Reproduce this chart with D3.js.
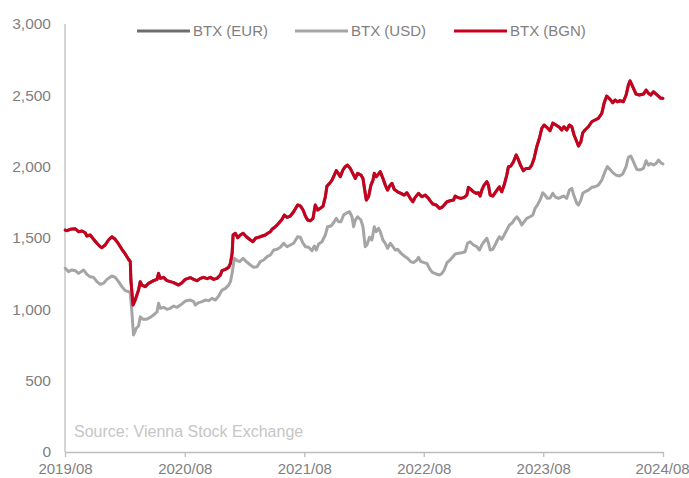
<!DOCTYPE html>
<html>
<head>
<meta charset="utf-8">
<script src="https://cdn.jsdelivr.net/npm/d3@7"></script>
<style>
	body { margin: 0; background: #fff; }
	svg { display: block; font-family: "Liberation Sans", Arial, sans-serif; }
	.axis-label { fill: #7f7f7f; font-size: 15.5px; }
	.x.axis .axis-label { font-size: 15px; }
	.legend--text { fill: #7f7f7f; font-size: 15px; }
	.source { fill: #c6c6c6; font-size: 16px; }
</style>
</head>
<body>
<div id="graphic"></div>
<script>
// time is stored as decimal years (2019.583 = start of Aug 2019)
const bgnDates = [2019.583, 2019.597, 2019.625, 2019.667, 2019.694, 2019.723, 2019.750, 2019.764, 2019.792, 2019.820,
	2019.848, 2019.876, 2019.890, 2019.917, 2019.945, 2019.973, 2020.001, 2020.029, 2020.057, 2020.085,
	2020.112, 2020.127, 2020.132, 2020.149, 2020.168, 2020.196, 2020.210, 2020.224, 2020.252, 2020.279,
	2020.321, 2020.350, 2020.363, 2020.377, 2020.405, 2020.433, 2020.461, 2020.489, 2020.530, 2020.559,
	2020.586, 2020.628, 2020.656, 2020.684, 2020.712, 2020.739, 2020.768, 2020.795, 2020.823, 2020.851,
	2020.879, 2020.893, 2020.921, 2020.948, 2020.963, 2020.977, 2020.985, 2021.004, 2021.024, 2021.046,
	2021.069, 2021.096, 2021.130, 2021.152, 2021.172, 2021.199, 2021.228, 2021.255, 2021.275, 2021.297,
	2021.311, 2021.339, 2021.367, 2021.395, 2021.414, 2021.437, 2021.464, 2021.492, 2021.525, 2021.548,
	2021.571, 2021.590, 2021.609, 2021.632, 2021.654, 2021.673, 2021.693, 2021.715, 2021.738, 2021.757,
	2021.771, 2021.793, 2021.813, 2021.832, 2021.849, 2021.868, 2021.882, 2021.905, 2021.924, 2021.943,
	2021.966, 2021.989, 2022.008, 2022.027, 2022.055, 2022.072, 2022.091, 2022.100, 2022.119, 2022.139,
	2022.156, 2022.167, 2022.183, 2022.203, 2022.217, 2022.239, 2022.259, 2022.278, 2022.295, 2022.315,
	2022.334, 2022.362, 2022.390, 2022.417, 2022.440, 2022.468, 2022.490, 2022.509, 2022.537, 2022.565,
	2022.593, 2022.621, 2022.635, 2022.657, 2022.685, 2022.713, 2022.733, 2022.752, 2022.775, 2022.802,
	2022.830, 2022.844, 2022.863, 2022.892, 2022.919, 2022.942, 2022.955, 2022.975, 2022.997, 2023.020,
	2023.039, 2023.053, 2023.067, 2023.086, 2023.109, 2023.122, 2023.137, 2023.159, 2023.178, 2023.198,
	2023.214, 2023.234, 2023.254, 2023.276, 2023.290, 2023.310, 2023.332, 2023.354, 2023.374, 2023.394,
	2023.415, 2023.438, 2023.465, 2023.485, 2023.505, 2023.527, 2023.549, 2023.569, 2023.588, 2023.611,
	2023.638, 2023.661, 2023.688, 2023.716, 2023.736, 2023.755, 2023.778, 2023.800, 2023.820, 2023.839,
	2023.862, 2023.876, 2023.896, 2023.912, 2023.931, 2023.959, 2023.987, 2024.015, 2024.042, 2024.071,
	2024.090, 2024.112, 2024.140, 2024.163, 2024.182, 2024.201, 2024.224, 2024.251, 2024.274, 2024.293,
	2024.307, 2024.330, 2024.357, 2024.385, 2024.419, 2024.441, 2024.461, 2024.480, 2024.502, 2024.525,
	2024.544, 2024.564, 2024.581];
const bgnValues = [1556, 1551, 1561, 1565, 1544, 1549, 1537, 1514, 1521, 1491,
	1463, 1439, 1432, 1451, 1486, 1509, 1491, 1458, 1421, 1388,
	1351, 1334, 1206, 1030, 1065, 1135, 1194, 1170, 1159, 1182,
	1201, 1210, 1252, 1217, 1224, 1201, 1194, 1187, 1170, 1187,
	1210, 1222, 1210, 1201, 1217, 1224, 1215, 1224, 1210, 1217,
	1241, 1271, 1280, 1294, 1322, 1393, 1521, 1533, 1502, 1521,
	1533, 1509, 1486, 1474, 1498, 1505, 1514, 1521, 1533, 1544,
	1561, 1579, 1603, 1631, 1661, 1645, 1654, 1684, 1731, 1725,
	1696, 1654, 1626, 1621, 1638, 1731, 1696, 1708, 1724, 1789,
	1864, 1883, 1906, 1941, 1972, 1949, 1930, 1977, 2000, 2011,
	1988, 1949, 1918, 1953, 1941, 1918, 1813, 1766, 1789, 1871,
	1906, 1953, 1930, 1949, 1965, 1918, 1871, 1836, 1864, 1883,
	1841, 1824, 1813, 1801, 1817, 1778, 1754, 1785, 1813, 1789,
	1801, 1778, 1760, 1738, 1731, 1708, 1715, 1731, 1754, 1761,
	1766, 1794, 1785, 1778, 1785, 1801, 1855, 1841, 1824, 1813,
	1817, 1794, 1836, 1871, 1895, 1871, 1801, 1794, 1817, 1841,
	1859, 1824, 1871, 1941, 2000, 2004, 2035, 2082, 2047, 2004,
	1972, 1988, 1988, 2011, 2059, 2140, 2199, 2269, 2292, 2276,
	2252, 2305, 2292, 2276, 2257, 2280, 2257, 2292, 2280, 2222,
	2175, 2145, 2175, 2238, 2257, 2280, 2315, 2327, 2339, 2374,
	2444, 2495, 2472, 2448, 2467, 2455, 2462, 2455, 2502, 2572,
	2602, 2560, 2509, 2502, 2509, 2537, 2514, 2502, 2525, 2509,
	2495, 2479, 2479];

// the EUR line runs underneath the BGN line over the whole period
const eurDates = bgnDates;
const eurValues = bgnValues;

const usdDates = [2019.583, 2019.611, 2019.639, 2019.667, 2019.694, 2019.736, 2019.764, 2019.792, 2019.820, 2019.848,
	2019.876, 2019.903, 2019.932, 2019.973, 2020.001, 2020.029, 2020.057, 2020.085, 2020.112, 2020.127,
	2020.141, 2020.154, 2020.177, 2020.196, 2020.210, 2020.233, 2020.260, 2020.294, 2020.321, 2020.350,
	2020.363, 2020.377, 2020.405, 2020.433, 2020.461, 2020.489, 2020.517, 2020.545, 2020.586, 2020.628,
	2020.656, 2020.670, 2020.697, 2020.726, 2020.754, 2020.781, 2020.810, 2020.837, 2020.865, 2020.893,
	2020.921, 2020.948, 2020.963, 2020.977, 2020.996, 2021.019, 2021.040, 2021.069, 2021.096, 2021.130,
	2021.157, 2021.186, 2021.213, 2021.241, 2021.269, 2021.297, 2021.325, 2021.353, 2021.381, 2021.408,
	2021.437, 2021.464, 2021.492, 2021.525, 2021.548, 2021.571, 2021.590, 2021.617, 2021.646, 2021.665,
	2021.682, 2021.701, 2021.729, 2021.757, 2021.776, 2021.805, 2021.826, 2021.849, 2021.868, 2021.888,
	2021.910, 2021.939, 2021.960, 2021.980, 2021.994, 2022.008, 2022.027, 2022.055, 2022.072, 2022.091,
	2022.105, 2022.127, 2022.147, 2022.167, 2022.183, 2022.203, 2022.217, 2022.239, 2022.259, 2022.278,
	2022.301, 2022.323, 2022.342, 2022.362, 2022.390, 2022.417, 2022.445, 2022.473, 2022.495, 2022.524,
	2022.537, 2022.557, 2022.585, 2022.607, 2022.635, 2022.657, 2022.685, 2022.713, 2022.733, 2022.752,
	2022.775, 2022.802, 2022.825, 2022.844, 2022.872, 2022.900, 2022.928, 2022.947, 2022.969, 2022.997,
	2023.025, 2023.047, 2023.067, 2023.086, 2023.109, 2023.122, 2023.137, 2023.159, 2023.178, 2023.198,
	2023.214, 2023.234, 2023.254, 2023.276, 2023.298, 2023.318, 2023.337, 2023.360, 2023.381, 2023.402,
	2023.421, 2023.443, 2023.471, 2023.494, 2023.513, 2023.532, 2023.555, 2023.577, 2023.596, 2023.616,
	2023.638, 2023.661, 2023.680, 2023.708, 2023.736, 2023.755, 2023.778, 2023.800, 2023.820, 2023.839,
	2023.862, 2023.876, 2023.896, 2023.912, 2023.931, 2023.959, 2023.987, 2024.015, 2024.042, 2024.071,
	2024.098, 2024.117, 2024.140, 2024.163, 2024.190, 2024.218, 2024.246, 2024.274, 2024.293, 2024.313,
	2024.335, 2024.363, 2024.391, 2024.419, 2024.441, 2024.461, 2024.480, 2024.502, 2024.525, 2024.544,
	2024.564, 2024.581];
const usdValues = [1288, 1264, 1276, 1271, 1252, 1276, 1245, 1229, 1224, 1194,
	1175, 1182, 1210, 1234, 1224, 1194, 1159, 1131, 1124, 1117,
	972, 820, 867, 883, 948, 930, 930, 944, 960, 983,
	1042, 1007, 1014, 1000, 1007, 1023, 1014, 1030, 1058, 1065,
	1054, 1030, 1047, 1054, 1065, 1061, 1077, 1065, 1093, 1135,
	1147, 1170, 1194, 1252, 1358, 1341, 1334, 1358, 1334, 1311,
	1294, 1299, 1334, 1346, 1369, 1381, 1416, 1421, 1435, 1463,
	1439, 1451, 1463, 1509, 1505, 1463, 1439, 1435, 1411, 1444,
	1416, 1458, 1474, 1521, 1579, 1584, 1607, 1638, 1614, 1614,
	1661, 1677, 1684, 1649, 1579, 1626, 1649, 1626, 1579, 1439,
	1451, 1505, 1486, 1579, 1544, 1568, 1544, 1486, 1463, 1428,
	1463, 1439, 1416, 1421, 1393, 1374, 1358, 1334, 1327, 1346,
	1365, 1334, 1327, 1322, 1278, 1257, 1248, 1241, 1252, 1276,
	1327, 1346, 1369, 1388, 1393, 1397, 1404, 1463, 1474, 1451,
	1439, 1416, 1451, 1474, 1498, 1467, 1416, 1421, 1451, 1486,
	1509, 1491, 1521, 1556, 1591, 1603, 1626, 1649, 1626, 1591,
	1614, 1638, 1649, 1661, 1708, 1731, 1766, 1817, 1801, 1778,
	1780, 1813, 1789, 1778, 1789, 1794, 1778, 1836, 1848, 1794,
	1743, 1731, 1766, 1813, 1824, 1836, 1855, 1859, 1871, 1906,
	1965, 2000, 1981, 1958, 1941, 1934, 1949, 2000, 2066, 2075,
	2035, 1981, 1977, 1988, 2042, 2011, 2023, 2011, 2023, 2047,
	2028, 2019];

const xTickLabels = ['2019/08', '2020/08', '2021/08', '2022/08', '2023/08', '2024/08'];
const yTicks = [0, 500, 1000, 1500, 2000, 2500, 3000];

const seriesNames = ['BTX (EUR)', 'BTX (USD)', 'BTX (BGN)'];
const colourPalette = ['#6d6e71', '#a5a5a5', '#c8001e'];

const width = 689, height = 478;
const margin = { top: 24, right: 26, bottom: 26, left: 65 };
const chartWidth = width - margin.left - margin.right;
const chartHeight = height - margin.top - margin.bottom;

// decimal year -> Date
function toDate(t) {
	const yr = Math.floor(t);
	const start = Date.UTC(yr, 0, 1), end = Date.UTC(yr + 1, 0, 1);
	return new Date(start + (t - yr) * (end - start));
}
const parseTick = d3.utcParse('%Y/%m');

const series = [
	{ name: seriesNames[0], colour: colourPalette[0], data: eurDates.map((d, i) => ({ date: toDate(d), value: eurValues[i] })) },
	{ name: seriesNames[1], colour: colourPalette[1], data: usdDates.map((d, i) => ({ date: toDate(d), value: usdValues[i] })) },
	{ name: seriesNames[2], colour: colourPalette[2], data: bgnDates.map((d, i) => ({ date: toDate(d), value: bgnValues[i] })) }
];

const svg = d3.select('#graphic')
	.append('svg')
	.attr('width', width)
	.attr('height', height)
	.append('g')
	.attr('transform', `translate(${margin.left},${margin.top})`);

const x = d3.scaleUtc()
	.domain([parseTick(xTickLabels[0]), parseTick(xTickLabels[xTickLabels.length - 1])])
	.range([0, chartWidth]);

const y = d3.scaleLinear()
	.domain([0, 3000])
	.range([chartHeight, 0]);

// y axis: labels only, plus a plain vertical line
const yAxis = svg.append('g')
	.attr('class', 'y axis')
	.call(d3.axisLeft(y).tickValues(yTicks).tickSize(0).tickPadding(14).tickFormat(d3.format(',')));
yAxis.select('.domain').remove();
yAxis.selectAll('text').attr('class', 'axis-label').attr('fill', null);

svg.append('line')
	.attr('x1', 0).attr('x2', 0)
	.attr('y1', 0).attr('y2', chartHeight)
	.attr('stroke', '#bdbdbd')
	.attr('stroke-width', 1.3);

// x axis
const xAxis = svg.append('g')
	.attr('class', 'x axis')
	.attr('transform', `translate(0,${chartHeight})`)
	.call(d3.axisBottom(x)
		.tickValues(xTickLabels.map(parseTick))
		.tickSizeInner(5)
		.tickSizeOuter(0)
		.tickPadding(6)
		.tickFormat(d3.utcFormat('%Y/%m')));
xAxis.select('.domain').attr('stroke', '#bdbdbd').attr('stroke-width', 1.3);
xAxis.selectAll('.tick line').attr('stroke', '#bdbdbd').attr('stroke-width', 1.3);
xAxis.selectAll('text').attr('class', 'axis-label').attr('fill', null);
// keep the last label inside the frame
xAxis.selectAll('.tick:last-of-type text').attr('dx', -1);
xAxis.attr('font-size', null).attr('font-family', null);
yAxis.attr('font-size', null).attr('font-family', null);

// lines
const lineGenerator = d3.line()
	.x((d) => x(d.date))
	.y((d) => y(d.value))
	.curve(d3.curveLinear);

series.forEach((s) => {
	svg.append('path')
		.datum(s.data)
		.attr('fill', 'none')
		.attr('stroke', s.colour)
		.attr('stroke-width', 3)
		.attr('stroke-linejoin', 'round')
		.attr('stroke-linecap', 'round')
		.attr('d', lineGenerator);
});

// legend
const legendX = [72, 230, 389];
const legend = svg.append('g').attr('class', 'legend');
series.forEach((s, i) => {
	const item = legend.append('g').attr('transform', `translate(${legendX[i]},${31 - margin.top})`);
	item.append('line')
		.attr('x1', 0).attr('x2', 53)
		.attr('stroke', s.colour)
		.attr('stroke-width', 3);
	item.append('text')
		.attr('class', 'legend--text')
		.attr('x', 56)
		.attr('dy', '0.35em')
		.text(s.name);
});

// source note
svg.append('text')
	.attr('class', 'source')
	.attr('x', 9)
	.attr('y', 437 - margin.top)
	.text('Source: Vienna Stock Exchange');
</script>
</body>
</html>
